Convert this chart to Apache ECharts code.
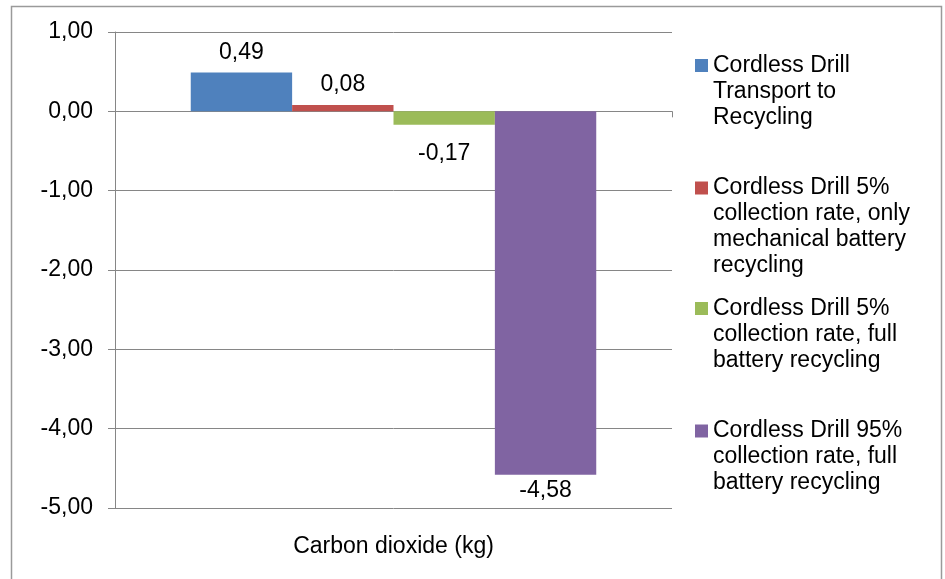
<!DOCTYPE html>
<html><head><meta charset="utf-8">
<script src="https://cdn.jsdelivr.net/npm/echarts@6/dist/echarts.min.js"></script>
<style>html,body{margin:0;padding:0;background:#fff}#c{width:945px;height:579px}</style>
</head><body><div id="c"></div>
<script>
const categories = ['Carbon dioxide (kg)'];
const seriesNames = [
  'Cordless Drill Transport to Recycling',
  'Cordless Drill 5% collection rate, only mechanical battery recycling',
  'Cordless Drill 5% collection rate, full battery recycling',
  'Cordless Drill 95% collection rate, full battery recycling'
];
const legendText = [
  'Cordless Drill\nTransport to\nRecycling',
  'Cordless Drill 5%\ncollection rate, only\nmechanical battery\nrecycling',
  'Cordless Drill 5%\ncollection rate, full\nbattery recycling',
  'Cordless Drill 95%\ncollection rate, full\nbattery recycling'
];
const values = [[0.49], [0.08], [-0.17], [-4.58]];
const colors = ['#4F81BD', '#C0504D', '#9BBB59', '#8064A2'];
const yTicks = { min: -5, max: 1, interval: 1 };

const FONT = 'Liberation Sans, Arial, sans-serif';
const FS = 23, LH = 26;
const iconCenters = [65.5, 188, 308.5, 431];
const labelDistances = [8, 9, 17, 4];

const fmt = v => v.toFixed(2).replace('.', ',');

const chart = echarts.init(document.getElementById('c'), null, {renderer: 'canvas'});
const legends = seriesNames.map((name, i) => {
  const n = legendText[i].split('\n').length;
  const padded = '\n'.repeat(n - 1) + legendText[i];
  return {
    data: [name], left: 695, top: iconCenters[i] - (2 * n - 1) * LH / 2, orient: 'vertical', padding: 0,
    itemWidth: 13, itemHeight: 13, icon: 'rect', selectedMode: false,
    formatter: () => padded,
    textStyle: { fontFamily: FONT, fontSize: FS, lineHeight: LH, color: '#000' }
  };
});
chart.setOption({
  animation: false,
  backgroundColor: '#fff',
  graphic: [{ type: 'rect', shape: { x: 11.5, y: 6.5, width: 930, height: 600 }, style: { fill: 'none', stroke: '#9a9a9a', lineWidth: 1.5 }, silent: true }],
  legend: legends,
  grid: { left: 115, right: 273, top: 32, bottom: 71 },
  xAxis: [{
    type: 'category', data: categories, position: 'bottom',
    axisLine: { show: false, onZero: false }, axisTick: { show: false },
    axisLabel: { fontFamily: FONT, fontSize: FS, color: '#000', margin: 27 }
  }, {
    type: 'category', data: categories, position: 'bottom',
    axisLine: { show: true, onZero: true, lineStyle: { color: '#868686', width: 1 } },
    axisTick: { show: true, length: 6, lineStyle: { color: '#868686' } },
    axisLabel: { show: false }
  }],
  yAxis: {
    type: 'value', min: yTicks.min, max: yTicks.max, interval: yTicks.interval,
    axisLine: { show: true, lineStyle: { color: '#868686', width: 1 } },
    axisTick: { show: true, length: 7, lineStyle: { color: '#868686' } },
    splitLine: { show: true, lineStyle: { color: '#868686', width: 1 } },
    axisLabel: { fontFamily: FONT, fontSize: FS, color: '#000', margin: 22, padding: [3, 0, 0, 0], formatter: fmt }
  },
  series: seriesNames.map((name, i) => ({
    type: 'bar', name, data: values[i], xAxisIndex: 0,
    barGap: '0%', barCategoryGap: '27.2%',
    itemStyle: { color: colors[i] },
    label: {
      show: true, position: values[i][0] >= 0 ? 'top' : 'bottom', distance: labelDistances[i],
      fontFamily: FONT, fontSize: FS, color: '#000', formatter: p => fmt(p.value)
    }
  }))
});
</script></body></html>
